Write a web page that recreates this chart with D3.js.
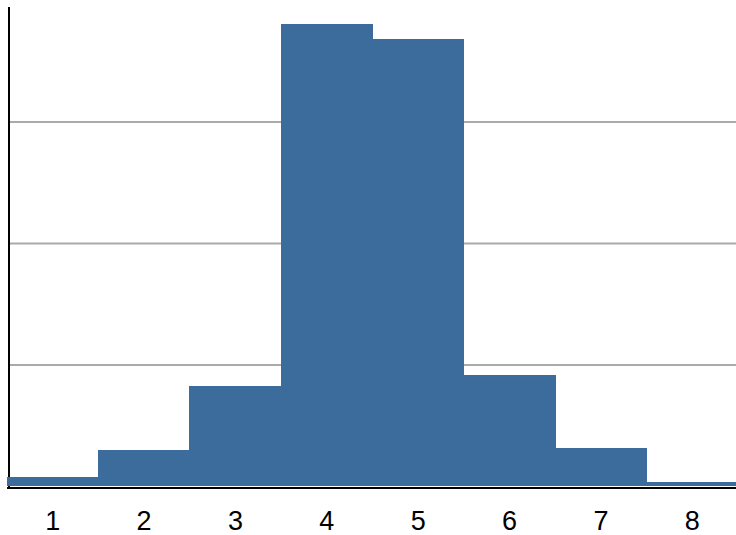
<!DOCTYPE html>
<html lang="en">
<head>
<meta charset="UTF-8">
<title>Histogram</title>
<script src="https://cdn.jsdelivr.net/npm/d3@7"></script>
<style>
	body { margin: 0; background: #fff; }
	.tick text { font-family: "Liberation Sans", Arial, sans-serif; }
</style>
</head>
<body>
<svg width="736" height="535"></svg>
<script>
	// bins and their share (percent)
	const bins = ["1", "2", "3", "4", "5", "6", "7", "8"];
	const share = [0.7, 3.0, 8.2, 38.0, 36.8, 9.1, 3.15, 0.3];
	const gridValues = [10, 20, 30];

	const svg = d3.select("svg");
	const plotLeft = 7, plotRight = 738, plotTop = 0, plotBottom = 486;

	const x = d3.scaleBand().domain(bins).range([plotLeft, plotRight]).padding(0);
	const y = d3.scaleLinear().domain([0, 40]).range([plotBottom, plotTop]);

	// gridlines
	const grid = svg.append("g")
		.attr("transform", "translate(9,0)")
		.call(d3.axisLeft(y).tickValues(gridValues).tickSize(-(736 - 9)).tickFormat(""));
	grid.select(".domain").remove();
	grid.selectAll("line").attr("stroke", "#aaa").attr("stroke-width", 2);

	// y axis line
	svg.append("line")
		.attr("x1", 9).attr("x2", 9)
		.attr("y1", 7).attr("y2", 489)
		.attr("stroke", "#000").attr("stroke-width", 2);

	// bars
	svg.append("g")
		.attr("shape-rendering", "crispEdges")
		.selectAll("rect")
		.data(bins)
		.enter()
		.append("rect")
		.attr("x", d => Math.floor(x(d)))
		.attr("width", d => Math.ceil(x(d) + x.bandwidth()) - Math.floor(x(d)))
		.attr("y", (d, i) => y(share[i]))
		.attr("height", (d, i) => y(0) - y(share[i]))
		.attr("fill", "#3c6c9c");

	// x axis
	const xAxis = svg.append("g")
		.attr("transform", `translate(0,${plotBottom + 2})`)
		.call(d3.axisBottom(x).tickSize(0).tickPadding(23));
	xAxis.select(".domain").remove();
	xAxis.selectAll("text").attr("font-size", 27).attr("fill", "#000");

	svg.append("line")
		.attr("x1", plotLeft).attr("x2", 736)
		.attr("y1", plotBottom + 2).attr("y2", plotBottom + 2)
		.attr("stroke", "#000").attr("stroke-width", 2);
</script>
</body>
</html>
